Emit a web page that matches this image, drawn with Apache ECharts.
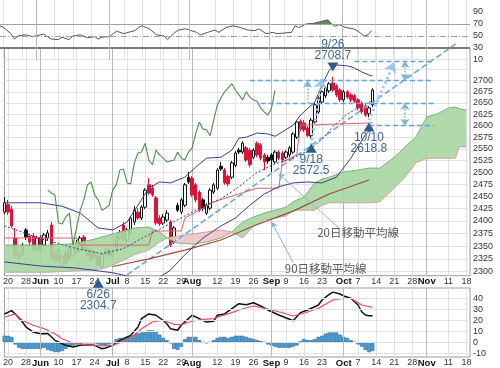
<!DOCTYPE html>
<html><head><meta charset="utf-8">
<script src="https://cdn.jsdelivr.net/npm/echarts@6/dist/echarts.min.js"></script>
<style>html,body{margin:0;padding:0;background:#fff;}#chart{width:500px;height:368px;}</style>
</head><body><div id="chart"></div>
<script>
// ---------- categories (trading days) ----------
const HOLIDAYS = ['5/27','7/4','9/2'];
const categories = [];
for (let d = new Date(2019,4,17); d <= new Date(2019,10,19); d.setDate(d.getDate()+1)) {
  const wd = d.getDay(); if (wd === 0 || wd === 6) continue;
  const s = (d.getMonth()+1) + '/' + d.getDate();
  if (HOLIDAYS.indexOf(s) >= 0) continue;
  categories.push(s);
}
const xTickLabels = [['5/20','20'],['5/28','28'],['6/3','Jun'],['6/10','10'],['6/17','17'],['6/24','24'],['7/1','Jul'],['7/8','8'],['7/15','15'],['7/22','22'],['7/29','29'],['8/1','Aug'],['8/12','12'],['8/19','19'],['8/26','26'],['9/3','Sep'],['9/9','9'],['9/16','16'],['9/23','23'],['10/1','Oct'],['10/7','7'],['10/14','14'],['10/21','21'],['10/28','28'],['11/1','Nov'],['11/11','11'],['11/18','18']];
const monthStarts = ['6/3','7/1','8/1','9/3','10/1','11/1'];
const priceTicks = [2300,2325,2350,2375,2400,2425,2450,2475,2500,2525,2550,2575,2600,2625,2650,2675,2700,2725,2750];
const priceLabelMax = 2700;
const macdTicks = [-10,0,10,20,30,40];

// ---------- price data [open, close, low, high] ----------
const ohlc = [
[2418,2437,2414,2449],[2433,2418,2412,2443],[2424,2390,2386,2431],[2366,2333,2323,2386],[2335,2327,2321,2342],
[2335,2352,2331,2356],[2382,2368,2362,2386],[2370,2358,2352,2374],[2370,2342,2338,2376],[2342,2366,2338,2370],
[2368,2344,2340,2372],[2352,2372,2348,2376],[2366,2376,2362,2382],[2392,2327,2323,2398],[2333,2323,2319,2342],
[2323,2342,2319,2348],[2309,2329,2307,2333],[2338,2317,2313,2342],[2327,2348,2323,2352],[2331,2346,2327,2350],
[2338,2354,2334,2362],[2342,2366,2338,2370],[2368,2344,2340,2372],[2344,2331,2327,2348],[2342,2323,2319,2346],
[2329,2338,2325,2342],[2331,2313,2309,2334],[2309,2334,2304.7,2338],[2342,2333,2329,2346],[2342,2333,2327,2346],
[2338,2331,2327,2344],[2342,2368,2338,2372],[2366,2376,2362,2382],[2392,2364,2360,2398],[2362,2382,2356,2386],
[2376,2406,2372,2410],[2398,2422,2392,2430],[2418,2406,2402,2426],[2406,2428,2402,2432],[2428,2463,2424,2467],
[2474,2457,2453,2488],[2467,2453,2449,2474],[2447,2396,2392,2451],[2406,2394,2390,2412],[2396,2408,2392,2414],
[2402,2416,2398,2422],[2398,2352,2348,2402],[2358,2386,2354,2390],[2432,2422,2418,2437],[2418,2443,2414,2447],
[2432,2474,2428,2478],[2490,2480,2476,2501],[2488,2453,2449,2492],[2474,2443,2438,2478],[2459,2422,2418,2463],
[2443,2426,2420,2447],[2416,2432,2412,2436],[2426,2463,2422,2467],[2459,2474,2455,2478],[2467,2505,2463,2509],
[2513,2507,2503,2522],[2505,2478,2474,2509],[2492,2476,2471,2496],[2490,2520,2486,2524],[2515,2541,2511,2545],
[2547,2543,2539,2552],[2543,2562,2539,2566],[2552,2526,2522,2556],[2547,2516,2511,2552],[2532,2547,2528,2551],
[2562,2537,2532,2566],[2558,2530,2526,2562],[2537,2522,2505,2541],[2532,2524,2518,2537],[2537,2526,2501,2541],
[2522,2543,2518,2547],[2543,2530,2526,2547],[2541,2526,2522,2545],[2532,2543,2528,2547],[2537,2552,2532,2556],
[2543,2582,2539,2586],[2575,2608,2571,2612],[2610,2593,2588,2614],[2606,2591,2586,2612],[2595,2578,2575,2599],
[2578,2612,2572.5,2617],[2608,2646,2604,2650],[2630,2661,2626,2665],[2652,2675,2648,2679],[2666,2684,2661,2688],
[2677,2693,2672,2697],[2695,2679,2675,2708.7],[2688,2668,2663,2692],[2679,2657,2652,2683],[2657,2675,2652,2679],
[2675,2663,2659,2679],[2668,2657,2652,2672],[2666,2654,2650,2670],[2657,2639,2634,2661],[2650,2630,2626,2654],
[2643,2623,2619,2648],[2626,2639,2618.8,2643],[2646,2679,2641,2683]
];
const CHIKOU_SHIFT = 27;
const CHIKOU_FROM = 12;

// ---------- indicator lines [index, value] ----------
const bbUpper = [[0,2437],[10,2437],[16,2430],[21,2416],[26,2386],[30,2382],[34,2398],[37,2432],[40,2467],[43,2480],[46,2478],[50,2490],[53,2511],[56,2530],[60,2532],[63,2547],[65,2573],[67,2575],[70,2584],[73,2582],[75,2577],[80,2601],[82,2623],[86,2652],[88,2690],[90,2724],[92,2736],[95,2734],[97,2729],[99,2720],[101,2713],[102,2711]];
const bbMid = [[0,2390],[10,2365],[20,2345],[27,2335],[33,2345],[38,2365],[42,2380],[46,2395],[50,2410],[55,2430],[60,2445],[65,2470],[70,2500],[75,2518],[79,2527],[84,2545],[88,2570],[91,2598],[95,2625],[99,2645],[102,2655]];
const bbLower = [[0,2319],[10,2311],[20,2307],[30,2298],[35,2290],[42,2285],[46,2303],[50,2333],[55,2366],[60,2390],[64,2406],[68,2432],[72,2455],[76,2470],[80,2478],[84,2480],[88,2478],[92,2490],[96,2530],[100,2580],[102,2595]];
const kijun = [[0,2366],[20,2366],[21,2352],[40,2352],[41,2380],[49,2380],[50,2406],[55,2426],[58,2439],[70,2467],[76,2467],[77,2522],[81,2537],[82,2601],[102,2606]];
const ma90 = [[30,2310],[40,2325],[50,2342],[60,2362],[69,2390],[80,2420],[90,2455],[101,2484]];
const kumoIdx = [0,6,12,18,24,28,32,36,40,43,45,48,52,56,60,63,66,69,72,75,78,80,83,86,88,90,94,98,101,104,106,108,111,114,117,120,123,125,126,128];
const spanA = [2352,2352,2352,2354,2362,2370,2378,2386,2388,2378,2366,2356,2354,2358,2366,2378,2398,2408,2416,2422,2428,2439,2449,2478,2486,2490,2501,2505,2509,2509,2520,2532,2554,2575,2619,2626,2639,2641,2637,2634];
const spanB = [2299,2299,2299,2301,2303,2307,2319,2333,2342,2358,2366,2370,2374,2378,2382,2378,2366,2390,2402,2406,2410,2422,2422,2422,2432,2437,2437,2437,2437,2439,2453,2467,2490,2520,2530,2530,2530,2530,2554,2554];

// ---------- RSI ----------
const rsi = [[0,67],[1,64],[3,54],[4,45],[5,50],[7,52],[9,49],[11,52],[12,53],[14,45],[16,44],[17,48],[19,44],[20,50],[22,52],[24,47],[26,49],[27,45],[28,48],[30,49],[32,58],[34,54],[37,59],[38,64],[39,67],[41,62],[43,52],[45,50],[46,44],[48,56],[49,60],[51,62],[54,56],[55,52],[57,56],[59,60],[60,56],[62,64],[64,67],[66,64],[68,60],[70,59],[71,62],[73,54],[75,56],[76,54],[78,55],[80,56],[81,67],[82,64],[84,70],[86,71],[88,74],[90,77],[91,70],[92,66],[93,69],[95,64],[97,62],[98,59],[100,50],[101,52],[102,59]];
const rsiLevels = [70, 50, 30];

// ---------- MACD ----------
const macd = [[0,26],[2,29],[3,26],[5,18.6],[6,14],[8,9.4],[10,7.9],[12,8],[14,1.8],[16,-1.3],[17,-2.8],[19,-4.3],[21,-2.8],[23,-2.2],[25,-2.8],[27,-5.9],[28,-5.2],[30,-2.8],[32,1.8],[33,3.3],[35,6.4],[37,14],[38,21.7],[40,26],[42,24.8],[44,20],[45,17],[46,12.5],[48,11],[49,15.6],[51,21.7],[52,24.8],[54,21.7],[56,18.6],[58,19.3],[59,24.8],[61,26],[63,30.8],[65,35.4],[67,34.5],[69,36.3],[71,33.3],[73,29.6],[76,25],[79,21.1],[80,19.8],[81,23.5],[82,27.2],[84,29.6],[87,34.2],[88,38.8],[90,44],[91,46],[93,44.3],[94,42.5],[96,40.4],[97,37.2],[98,34.2],[99,28],[100,25],[101,24.4],[102,24.4]];
const signal = [[0,23],[3,26],[5,20],[8,15.6],[11,12.5],[14,7.9],[16,3.3],[19,-0.6],[22,-2.2],[25,-2.8],[27,-3.4],[30,-2.8],[33,0.9],[36,6.4],[38,12.5],[41,18.6],[44,20.2],[47,16.5],[49,16.1],[52,19.3],[55,21.1],[58,21.7],[60,24.1],[63,27.2],[66,30.8],[69,33.3],[72,31.2],[76,28],[80,24.1],[83,26.6],[87,31.2],[91,38.8],[94,40.4],[96,40.4],[99,34.2],[102,32.1]];
const hist = [6,6,5,-2,-5,-6,-6,-6,-6,-6,-6,-5,-7,-8,-9,-9,-8,-6,-4,-3,-2,-2,-1,-1,-1,-1,-2,-3,-3,-2,-1,3,4,4,5,6,7,8,9,10,11,11,10,7,4,2,-1,-6,-7,-4,3,5,5,5,2,0,-1,0,2,4,5,5,4,5,6,6,6,5,4,3,2,1,0,-2,-3,-4,-5,-5,-5,-5,-4,-3,1,3,2,2,3,5,6,8,9,9,9,7,5,4,2,0,-2,-4,-7,-9,-8];

// ---------- annotations ----------
const pivots = [
  {date:'6/26', idx:26, price:2304.7, dir:'up', off:14},
  {date:'9/18', idx:85, price:2572.5, dir:'up', off:10},
  {date:'9/26', idx:91, price:2708.7, dir:'down', off:-10},
  {date:'10/10', idx:101, price:2618.8, dir:'up', off:10}
];
const levelLines = [[68,119,2700],[71,119,2650],[101,119,2600],[97,119,2745]];
const rangeArrows = [[84,2650,84,2700,false],[111,2745,111,2700,true],[111,2650,111,2600,true]];
const projections = [[85,2558,88,2705],[101,2612,108,2742]];
const trendLine = [[34,2294],[125,2784.5]];
const maNotes = [
  {text:'20日移動平均線', at:[98,2376], from:[93,2384], to:[76,2497]},
  {text:'90日移動平均線', at:[89,2306], from:[80,2318], to:[74,2398]}
];

// ---------- build ----------
const RED = '#d8163c';
const tickMap = {}; xTickLabels.forEach(t => tickMap[t[0]] = t[1]);
const isTick = (i, v) => tickMap[v] !== undefined;
const monthNames = ['Jun','Jul','Aug','Sep','Oct','Nov'];
const candleData = ohlc.map((v, i) => {
  const prev = i > 0 ? ohlc[i-1][1] : v[0];
  const up = v[1] >= v[0]; const gain = v[1] >= prev;
  const col = gain ? '#111' : RED;
  const fill = up ? '#fff' : col;
  return {value: v, itemStyle: {color: fill, color0: fill, borderColor: col, borderColor0: col, borderWidth: 1}};
});
const chikou = [];
for (let i = CHIKOU_FROM; i + CHIKOU_SHIFT < ohlc.length; i++) chikou.push([i, ohlc[i + CHIKOU_SHIFT][1]]);
const kumoBase = kumoIdx.map((i,k) => [i, Math.min(spanA[k], spanB[k])]);
const kumoGreen = kumoIdx.map((i,k) => [i, Math.max(spanA[k]-spanB[k], 0)]);
const kumoPink = kumoIdx.map((i,k) => [i, Math.max(spanB[k]-spanA[k], 0)]);
const rsiOver = rsi.filter(p => p[0] >= 84 && p[0] <= 91);

const xAxisBase = (gi, showLabel) => ({
  type: 'category', gridIndex: gi, data: categories, boundaryGap: false,
  axisLine: {show: false}, axisTick: {show: false},
  axisLabel: {show: showLabel, interval: isTick, margin: 1, fontSize: 9, color: '#333',
    formatter: v => { const t = tickMap[v] || ''; return monthNames.indexOf(t) >= 0 ? '{b|' + t + '}' : t; },
    rich: {b: {fontWeight: 'bold', fontSize: 9.5, color: '#111'}}},
  splitLine: {show: true, interval: isTick, lineStyle: {color: '#e2e2e2', width: 1}}
});
const lineS = (name, data, color, width, extra) => Object.assign({name, type: 'line', xAxisIndex: 1, yAxisIndex: 1, data,
  showSymbol: false, symbol: 'none', silent: true, lineStyle: {color, width}}, extra || {});

const option = {
  animation: false,
  textStyle: {fontFamily: 'Liberation Sans, Arial, sans-serif'},
  grid: [
    {left: 0, top: 0, width: 470, height: 60, show: false},
    {left: 0, top: 48.3, width: 470, height: 227.4, show: true, borderColor: '#9a9a9a', borderWidth: 1},
    {left: 0, top: 288, width: 470, height: 69, show: true, borderColor: '#9a9a9a', borderWidth: 1}
  ],
  xAxis: [xAxisBase(0, false), xAxisBase(1, true), xAxisBase(2, true)],
  yAxis: [
    {type: 'value', gridIndex: 0, min: 10, max: 110, interval: 20, position: 'right',
      axisLine: {show: false}, axisTick: {show: false}, splitLine: {show: false},
      axisLabel: {showMaxLabel: false, fontSize: 9, color: '#333', margin: 3}},
    {type: 'log', logBase: 10, gridIndex: 1, min: 2292.3, max: 2774.5, position: 'right',
      axisLine: {show: false}, axisTick: {show: false}, splitLine: {show: false}, axisLabel: {show: false}},
    {type: 'value', gridIndex: 2, min: -13.5, max: 49.8, position: 'right',
      axisLine: {show: false}, axisTick: {show: false}, splitLine: {show: false}, axisLabel: {show: false}}
  ],
  series: [
    // ---- RSI pane
    {type: 'line', xAxisIndex: 0, yAxisIndex: 0, data: rsi, showSymbol: false, silent: true,
      lineStyle: {color: '#555', width: 1},
      markLine: {silent: true, symbol: 'none', label: {show: false},
        data: [
          {yAxis: rsiLevels[0], lineStyle: {color: '#a0a0a0', width: 1, type: 'solid'}},
          {yAxis: rsiLevels[1], lineStyle: {color: '#a0a0a0', width: 1, type: [6,2,1,2]}},
          {yAxis: rsiLevels[2], lineStyle: {color: '#7a7a7a', width: 2, type: 'solid'}}
        ].concat(monthStarts.map(m => ({xAxis: m, lineStyle: {color: '#b9b9b9', width: 1, type: 'solid'}})))}},
    {type: 'line', xAxisIndex: 0, yAxisIndex: 0, data: rsiOver, showSymbol: false, silent: true,
      lineStyle: {width: 0}, areaStyle: {origin: 70, color: '#3e7d3e', opacity: 0.85}},
    // ---- main pane helpers (grid lines + labels)
    {type: 'line', xAxisIndex: 1, yAxisIndex: 1, data: [], z: 0, silent: true,
      markLine: {silent: true, symbol: 'none', z: 0,
        data: priceTicks.map(p => ({yAxis: p, lineStyle: {color: '#e2e2e2', width: 1, type: 'solid'},
          label: {show: p <= priceLabelMax, position: 'end', distance: 3, formatter: String(p), fontSize: 9, color: '#333'}}))
          .concat(monthStarts.map(m => ({xAxis: m, lineStyle: {color: '#b9b9b9', width: 1, type: 'solid'}, label: {show: false}})))}},
    // cloud
    {type: 'line', xAxisIndex: 1, yAxisIndex: 1, data: kumoBase, stack: 'kumo', showSymbol: false, silent: true, lineStyle: {width: 0}},
    {type: 'line', xAxisIndex: 1, yAxisIndex: 1, data: kumoGreen, stack: 'kumo', showSymbol: false, silent: true, lineStyle: {width: 0}, areaStyle: {color: '#a9d6a2', opacity: 0.9}},
    {type: 'line', xAxisIndex: 1, yAxisIndex: 1, data: kumoPink, stack: 'kumo', showSymbol: false, silent: true, lineStyle: {width: 0}, areaStyle: {color: '#f1c6c8', opacity: 0.9}},
    lineS('spanA', kumoIdx.map((i,k) => [i, spanA[k]]), '#7ab27a', 1),
    lineS('spanB', kumoIdx.map((i,k) => [i, spanB[k]]), '#cfa2a0', 1),
    // trend line (dashed)
    lineS('trend', trendLine, '#6aa8dc', 1.6, {clip: false, lineStyle: {color: '#6aa8dc', width: 1.6, type: [6,3]},
      markLine: {silent: true, symbol: 'none', label: {show: false},
        data: levelLines.map(l => [{coord: [l[0], l[2]], lineStyle: {color: '#6a9fd6', width: 1.4, type: [5,3]}}, {coord: [l[1], l[2]]}])
          .concat(rangeArrows.map(a => [{coord: [a[0], a[1]], symbol: a[4] ? 'arrow' : 'none', symbolSize: 7, lineStyle: {color: '#7db3e0', width: 1.6, type: 'dotted'}}, {coord: [a[2], a[3]], symbol: 'arrow', symbolSize: 7}]))
          .concat(projections.map(p => [{coord: [p[0], p[1]], symbol: 'none', lineStyle: {color: '#9cc6ea', width: 3, type: [2,3]}}, {coord: [p[2], p[3]], symbol: 'arrow', symbolSize: 10}]))
          .concat(maNotes.map(n => [{coord: n.from, symbol: 'none', lineStyle: {color: '#8fb4d4', width: 1, type: 'solid'}}, {coord: n.to, symbol: 'arrow', symbolSize: 6}]))},
      markPoint: {silent: true, symbol: 'rect', symbolSize: 0,
        data: maNotes.map(n => ({coord: n.at, label: {show: true, position: 'inside', formatter: n.text, fontSize: 11.5, color: '#5a5a5a', fontFamily: 'Noto Sans CJK JP'}}))}}),
    lineS('ma90', ma90, '#a0483c', 1.2),
    lineS('kijun', kijun, '#e0606a', 1),
    lineS('bbUpper', bbUpper, '#3a3a96', 1),
    lineS('bbMid', bbMid, '#3a3a96', 1, {lineStyle: {color: '#3a3a96', width: 1, type: [2,2]}}),
    lineS('bbLower', bbLower, '#3a3a96', 1),
    lineS('chikou', chikou, '#4a904a', 1.1),
    {type: 'candlestick', xAxisIndex: 1, yAxisIndex: 1, data: candleData, barWidth: 3, silent: true,
      markPoint: {silent: true,
        data: pivots.map(p => ({coord: [p.idx, p.price], symbol: 'triangle', symbolSize: [11, 9], symbolRotate: p.dir === 'down' ? 180 : 0,
          symbolOffset: [0, p.off], itemStyle: {color: '#2c5d8c'},
          label: {show: true, position: p.dir === 'down' ? 'top' : 'bottom', distance: 1, formatter: p.date + '\n' + p.price.toFixed(1),
            fontSize: 12, lineHeight: 11, color: '#3b6996'}}))}},
    // ---- MACD pane
    {type: 'bar', xAxisIndex: 2, yAxisIndex: 2, data: hist, barCategoryGap: '0%', silent: true,
      itemStyle: {color: '#4aa0d8', borderColor: '#2a6690', borderWidth: 0.6}},
    {type: 'line', xAxisIndex: 2, yAxisIndex: 2, data: macd, showSymbol: false, silent: true, lineStyle: {color: '#111', width: 1.5},
      markLine: {silent: true, symbol: 'none',
        data: macdTicks.map(v => ({yAxis: v, lineStyle: {color: '#e2e2e2', width: 1, type: 'solid'},
          label: {show: true, position: 'end', distance: 3, formatter: String(v), fontSize: 9, color: '#333'}}))
          .concat(monthStarts.map(m => ({xAxis: m, lineStyle: {color: '#b9b9b9', width: 1, type: 'solid'}, label: {show: false}})))}},
    {type: 'line', xAxisIndex: 2, yAxisIndex: 2, data: signal, showSymbol: false, silent: true, lineStyle: {color: '#e8505b', width: 1.2}}
  ]
};
const chart = echarts.init(document.getElementById('chart'));
chart.setOption(option);
</script></body></html>
